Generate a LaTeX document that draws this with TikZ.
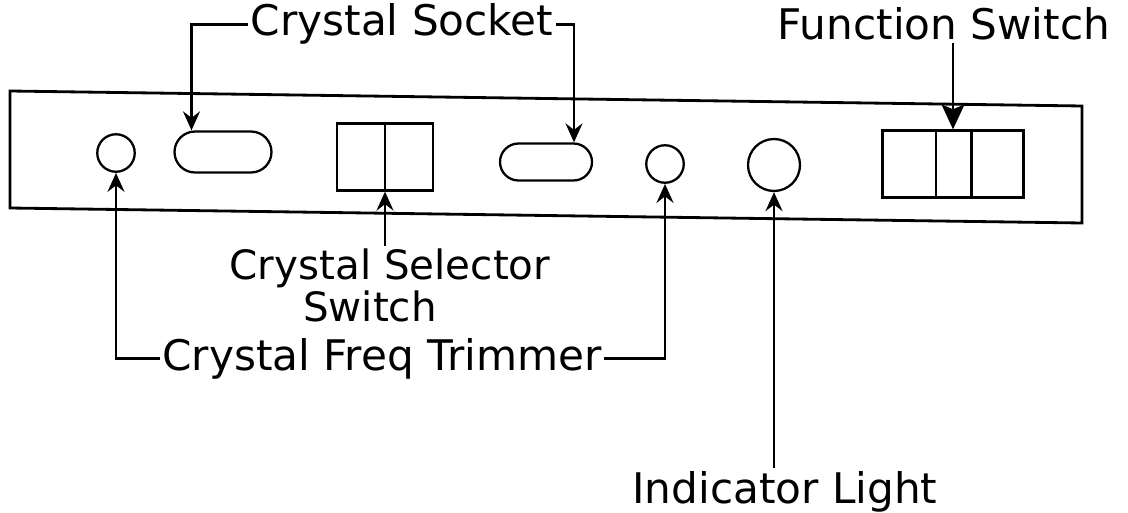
\documentclass[tikz,border=0pt]{standalone}
\usepackage{fontspec}
\setmainfont{DejaVu Sans}
\usetikzlibrary{positioning,arrows.meta,shapes.misc,calc}

\begin{document}
\begin{tikzpicture}[x=0.02cm, y=-0.02cm, line width=1.3pt,
    rotulo/.style={inner sep=1pt, font=\fontsize{24}{29}\selectfont},
    perilla/.style={draw, circle, inner sep=0pt, minimum size=0.75cm},
    zocalo/.style={draw, rounded rectangle, inner sep=0pt, minimum width=1.94cm, minimum height=0.82cm},
    caja/.style={draw, inner sep=0pt, minimum height=1.34cm},
    flecha/.style={-{Stealth[length=3.8mm, width=3.4mm, inset=1.3mm]}}]
        \useasboundingbox (0,0) rectangle (1128,513);
        % panel frontal
        \draw[line width=1.6pt] (10,91) -- (1082,106) -- (1082,223) -- (10,208) -- cycle;
        % componentes
        \node[perilla] (trimA) at (116,153) {};
        \node[zocalo] (sockA) at (223,152) {};
        \node[caja, minimum width=1.92cm] (selbox) at (385,157) {};
        \draw (selbox.north) -- (selbox.south);
        \node[zocalo, minimum width=1.84cm, minimum height=0.74cm] (sockB) at (546,162) {};
        \node[perilla] (trimB) at (665,164) {};
        \node[perilla, minimum size=1.04cm] (lamp) at (774,165) {};
        \node[caja, minimum width=2.82cm] (funcbox) at (953,164) {};
        \draw ($(funcbox.north west)!0.38!(funcbox.north east)$) -- ($(funcbox.south west)!0.38!(funcbox.south east)$);
        \draw ($(funcbox.north west)!0.63!(funcbox.north east)$) -- ($(funcbox.south west)!0.63!(funcbox.south east)$);
        % rotulos
        \node[rotulo, anchor=base] (sockLbl) at (402,36) {Crystal Socket};
        \node[rotulo, anchor=base] (funcLbl) at (944,40) {Function Switch};
        \node[rotulo, anchor=north, align=center, font=\fontsize{23}{24}\selectfont] (selLbl) at (390,246)
          {Crystal Selector\\Switch\hspace*{0.8cm}};
        \node[rotulo, anchor=base] (trimLbl) at (382,370) {Crystal Freq Trimmer};
        \node[rotulo, anchor=base] (lampLbl) at (785,503) {Indicator Light};
        % flechas
        \draw[flecha] (sockLbl.west) -| ([xshift=-0.63cm]sockA.north);
        \draw[flecha] (sockLbl.east) -| ([xshift=0.56cm]sockB.north);
        \draw[-{Stealth[length=5mm, width=4.6mm, inset=1mm]}] (funcbox.north |- funcLbl.south) -- (funcbox.north);
        \draw[flecha] (selbox.south |- selLbl.north) -- (selbox.south);
        \draw[flecha] (trimLbl.west) -| (trimA.south);
        \draw[flecha] (trimLbl.east) -| (trimB.south);
        \draw[flecha] (lamp.south |- lampLbl.north) -- (lamp.south);
      \end{tikzpicture}
\end{document}
